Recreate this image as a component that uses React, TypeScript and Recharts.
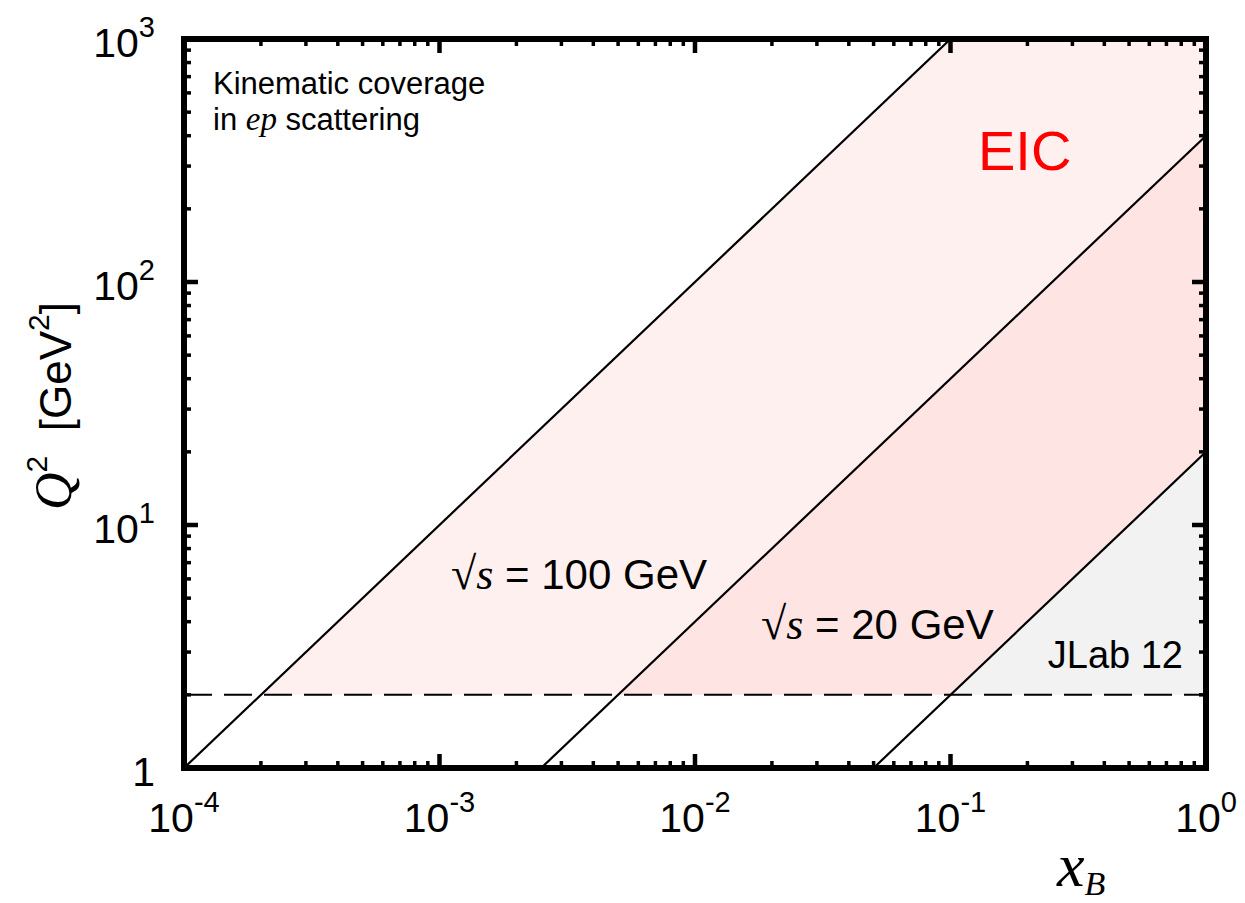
import React from "react";
import { Area, ComposedChart, Line, XAxis, YAxis } from "recharts";

// axis ticks
const X_MAJOR = [1e-4, 1e-3, 1e-2, 1e-1, 1];
const Y_MAJOR = [1, 10, 100, 1000];
const MINOR_STEPS = [2, 3, 4, 5, 6, 7, 8, 9];

// kinematic limits, Q^2 vs x_B
const line100 = [
  { x: 1e-4, q2: 1 },
  { x: 0.1, q2: 1000 },
];
const line20 = [
  { x: 2.5e-3, q2: 1 },
  { x: 1, q2: 400 },
];
const lineJLab = [
  { x: 0.05, q2: 1 },
  { x: 1, q2: 20 },
];
const cutQ2 = [
  { x: 1e-4, q2: 2 },
  { x: 1, q2: 2 },
];

// shaded coverage bands [low, high]
const bandEIC100 = [
  { x: 2e-4, range: [2, 2] },
  { x: 5e-3, range: [2, 50] },
  { x: 0.1, range: [40, 1000] },
  { x: 1, range: [400, 1000] },
];
const bandEIC20 = [
  { x: 5e-3, range: [2, 2] },
  { x: 0.1, range: [2, 40] },
  { x: 1, range: [20, 400] },
];
const bandJLab = [
  { x: 0.1, range: [2, 2] },
  { x: 1, range: [2, 20] },
];

const SANS = '"Liberation Sans", Arial, Helvetica, sans-serif';
const SERIF = '"Liberation Serif", "Times New Roman", serif';

const withMinors = (majors: number[]) => {
  const out: number[] = [];
  majors.forEach((m, i) => {
    out.push(m);
    if (i < majors.length - 1) MINOR_STEPS.forEach((s) => out.push(m * s));
  });
  return out;
};
const X_TICKS = withMinors(X_MAJOR);
const Y_TICKS = withMinors(Y_MAJOR);

const isMajor = (v: number) => {
  const l = Math.log10(v);
  return Math.abs(l - Math.round(l)) < 1e-9;
};

const MAJOR_LEN = 14;
const MINOR_LEN = 7;

function Pow({ v, plainOne }: { v: number; plainOne?: boolean }) {
  const e = Math.round(Math.log10(v));
  if (plainOne && e === 0) return <tspan>1</tspan>;
  return (
    <>
      <tspan>10</tspan>
      <tspan dy={-20} fontSize={29}>
        {e}
      </tspan>
    </>
  );
}

function XTick(props: any) {
  const { x, y, payload, side } = props;
  const major = isMajor(payload.value);
  const len = major ? MAJOR_LEN : MINOR_LEN;
  const dir = side === "bottom" ? -1 : 1;
  return (
    <g>
      <line x1={x} y1={y} x2={x} y2={y + dir * len} stroke="#000" strokeWidth={major ? 4.5 : 3.5} />
      {major && side === "bottom" && (
        <text x={x} y={y + 64} textAnchor="middle" fontFamily={SANS} fontSize={41} fill="#000">
          <Pow v={payload.value} />
        </text>
      )}
    </g>
  );
}

function YTick(props: any) {
  const { x, y, payload, side } = props;
  const major = isMajor(payload.value);
  const len = major ? MAJOR_LEN : MINOR_LEN;
  const dir = side === "left" ? 1 : -1;
  return (
    <g>
      <line x1={x} y1={y} x2={x + dir * len} y2={y} stroke="#000" strokeWidth={major ? 4.5 : 3.5} />
      {major && side === "left" && (
        <text x={x - 29} y={y + 18} textAnchor="end" fontFamily={SANS} fontSize={41} fill="#000">
          <Pow v={payload.value} plainOne />
        </text>
      )}
    </g>
  );
}

const frame = { stroke: "#000", strokeWidth: 6, strokeLinecap: "square" as const };

export default function App() {
  return (
    <div style={{ position: "absolute", left: 0, top: 0, width: 1245, height: 903, background: "#fff" }}>
      <ComposedChart width={1245} height={903} margin={{ top: 38, right: 38, bottom: 0, left: 0 }}>
        <Area data={bandEIC100} dataKey="range" type="linear" stroke="none" fill="#fff0f0" fillOpacity={1} isAnimationActive={false} />
        <Area data={bandEIC20} dataKey="range" type="linear" stroke="none" fill="#ffe4e4" fillOpacity={1} isAnimationActive={false} />
        <Area data={bandJLab} dataKey="range" type="linear" stroke="none" fill="#f2f2f2" fillOpacity={1} isAnimationActive={false} />
        <Line
          data={cutQ2}
          dataKey="q2"
          xAxisId="top"
          yAxisId="right"
          type="linear"
          stroke="#000"
          strokeWidth={2}
          strokeDasharray="28 12"
          dot={false}
          isAnimationActive={false}
        />
        <Line data={line100} dataKey="q2" type="linear" stroke="#000" strokeWidth={2.2} dot={false} isAnimationActive={false} />
        <Line data={line20} dataKey="q2" type="linear" stroke="#000" strokeWidth={2.2} dot={false} isAnimationActive={false} />
        <Line data={lineJLab} dataKey="q2" type="linear" stroke="#000" strokeWidth={2.2} dot={false} isAnimationActive={false} />
        <XAxis
          dataKey="x"
          type="number"
          scale="log"
          domain={[1e-4, 1]}
          allowDataOverflow
          ticks={X_TICKS}
          interval={0}
          height={135}
          tickSize={0}
          tickMargin={0}
          tickLine={false}
          axisLine={frame}
          tick={(p: any) => <XTick {...p} side="bottom" />}
        />
        <XAxis
          xAxisId="top"
          orientation="top"
          dataKey="x"
          type="number"
          scale="log"
          domain={[1e-4, 1]}
          allowDataOverflow
          ticks={X_TICKS}
          interval={0}
          height={1}
          tickSize={0}
          tickMargin={0}
          tickLine={false}
          axisLine={frame}
          tick={(p: any) => <XTick {...p} side="top" />}
        />
        <YAxis
          type="number"
          scale="log"
          domain={[1, 1000]}
          allowDataOverflow
          ticks={Y_TICKS}
          interval={0}
          width={184}
          tickSize={0}
          tickMargin={0}
          tickLine={false}
          axisLine={frame}
          tick={(p: any) => <YTick {...p} side="left" />}
        />
        <YAxis
          yAxisId="right"
          orientation="right"
          type="number"
          scale="log"
          domain={[1, 1000]}
          allowDataOverflow
          ticks={Y_TICKS}
          interval={0}
          width={1}
          tickSize={0}
          tickMargin={0}
          tickLine={false}
          axisLine={frame}
          tick={(p: any) => <YTick {...p} side="right" />}
        />
      </ComposedChart>
      <svg
        width={1245}
        height={903}
        style={{ position: "absolute", left: 0, top: 0, pointerEvents: "none" }}
      >
        <text x={213} y={94} fontFamily={SANS} fontSize={31} fill="#000">
          Kinematic coverage
        </text>
        <text x={213} y={130} fontFamily={SANS} fontSize={31} fill="#000">
          in <tspan fontFamily={SERIF} fontStyle="italic" fontSize={33}>ep</tspan> scattering
        </text>
        <text x={978} y={170} fontFamily={SANS} fontSize={56} fill="#ff0000">
          EIC
        </text>
        <text x={451} y={589} fontFamily={SANS} fontSize={42} fill="#000">
          <tspan fontFamily={SERIF} fontSize={46}>√</tspan>
          <tspan fontFamily={SERIF} fontStyle="italic" fontSize={44}>s</tspan> = 100 GeV
        </text>
        <text x={761} y={639} fontFamily={SANS} fontSize={42} fill="#000">
          <tspan fontFamily={SERIF} fontSize={46}>√</tspan>
          <tspan fontFamily={SERIF} fontStyle="italic" fontSize={44}>s</tspan> = 20 GeV
        </text>
        <text x={1183} y={668} textAnchor="end" fontFamily={SANS} fontSize={38} fill="#000">
          JLab 12
        </text>
        <text x={1057} y={886} fontFamily={SERIF} fontStyle="italic" fontSize={62} fill="#000">
          x<tspan dy={9} fontSize={34}>B</tspan>
        </text>
        <text
          transform="translate(71 406) rotate(-90)"
          textAnchor="middle"
          fontFamily={SANS}
          fontSize={44}
          fill="#000"
        >
          <tspan fontFamily={SERIF} fontStyle="italic" fontSize={52}>Q</tspan>
          <tspan dy={-24} fontSize={30}>2</tspan>
          <tspan dy={24}>{"\u00a0\u00a0[GeV"}</tspan>
          <tspan dy={-22} fontSize={30}>2</tspan>
          <tspan dy={22}>]</tspan>
        </text>
      </svg>
    </div>
  );
}
